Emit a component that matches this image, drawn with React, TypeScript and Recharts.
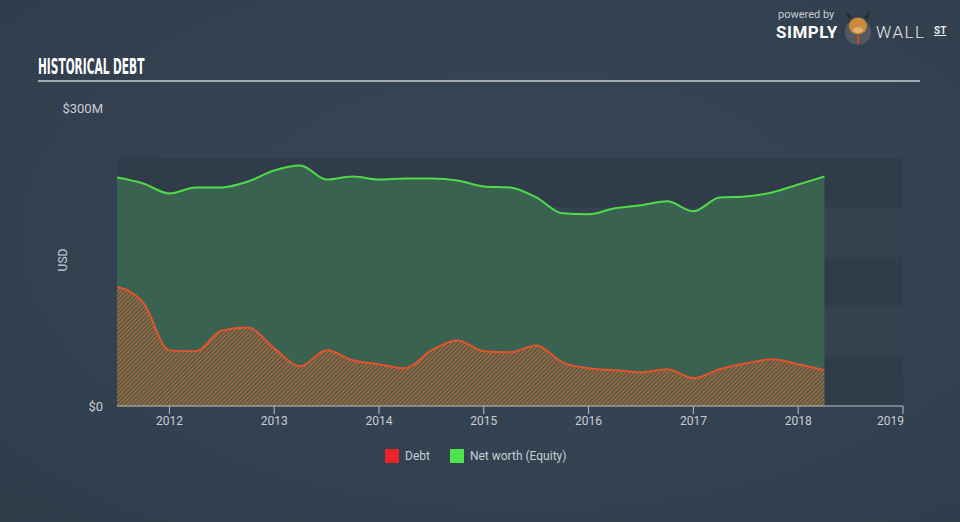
import React from "react";
import {
  Area,
  ComposedChart,
  ReferenceArea,
  XAxis,
  YAxis
} from "recharts";

const periods = [
  2011.5, 2011.75, 2012, 2012.25, 2012.5, 2012.75, 2013, 2013.25, 2013.5, 2013.75,
  2014, 2014.25, 2014.5, 2014.75, 2015, 2015.25, 2015.5, 2015.75, 2016, 2016.25,
  2016.5, 2016.75, 2017, 2017.25, 2017.5, 2017.75, 2018, 2018.25
];

// $M
const debt = [
  120, 104, 56, 55, 76, 79, 58, 40, 56, 46, 42, 38, 56, 66, 55, 54, 61, 44, 38, 36,
  34, 37, 28, 37, 43, 47, 42, 36
];

const equity = [
  230, 224, 214, 220, 220, 226, 237, 242, 228, 231, 228, 229, 229, 227, 221, 220,
  210, 194, 193, 199, 202, 206, 196, 210, 211, 215, 223, 231
];

const yearTicks = [2012, 2013, 2014, 2015, 2016, 2017, 2018, 2019];
const valueTicks = [0, 300];
const bands = [0, 50, 100, 150, 200];

const rows = periods.map((t, i) => ({ t, debt: debt[i], equity: equity[i] }));

const axisText = "#c9ced4";
const tickFont = "Roboto, 'Open Sans', sans-serif";

function YearTick(props: any) {
  const { x, y, payload } = props;
  const last = payload.value === 2019;
  return (
    <text
      x={last ? x + 1 : x}
      y={y + 9}
      textAnchor={last ? "end" : "middle"}
      fill={axisText}
      fontSize={12}
      fontFamily={tickFont}
    >
      {payload.value}
    </text>
  );
}

export default function App() {
  return (
    <div
      style={{
        position: "absolute",
        left: 0,
        top: 0,
        width: 960,
        height: 522,
        overflow: "hidden",
        background: "radial-gradient(ellipse at 55% 45%, #374656 0%, #334150 60%, #2f3c4a 100%)",
        fontFamily: tickFont
      }}
    >
      <div
        style={{
          position: "absolute",
          left: 38,
          top: 55,
          color: "#ffffff",
          fontFamily: "'Liberation Sans Narrow', 'DejaVu Sans Condensed', sans-serif",
          fontWeight: 700,
          fontSize: 21,
          lineHeight: "24px",
          transform: "scaleX(0.56)",
          transformOrigin: "left center",
          whiteSpace: "nowrap"
        }}
      >
        HISTORICAL DEBT
      </div>
      <div
        style={{
          position: "absolute",
          left: 38,
          top: 80,
          width: 882,
          height: 2,
          background: "#a3aab2"
        }}
      />

      {/* logo */}
      <div style={{ position: "absolute", left: 778, top: 8, color: "#c8ccd1", fontSize: 11, lineHeight: "13px" }}>
        powered by
      </div>
      <div
        style={{
          position: "absolute",
          left: 776,
          top: 23,
          color: "#ffffff",
          fontSize: 17,
          lineHeight: "18px",
          fontWeight: 700,
          letterSpacing: 0.5
        }}
      >
        SIMPLY
      </div>
      <svg style={{ position: "absolute", left: 841, top: 9 }} width={34} height={38}>
        <circle cx={17} cy={23} r={13} fill="#55595f" />
        <ellipse cx={17} cy={17} rx={9} ry={8.5} fill="#c98a3a" />
        <ellipse cx={17} cy={21} rx={5} ry={3} fill="#e0b070" />
        <path d="M7 10 L5 2 L11 8 Z M27 10 L29 2 L23 8 Z" fill="#2a2a2a" />
        <rect x={16} y={27} width={2} height={7} fill="#d8402a" />
      </svg>
      <div
        style={{
          position: "absolute",
          left: 876,
          top: 23,
          color: "#e6e8ea",
          fontSize: 17,
          lineHeight: "18px",
          fontWeight: 300,
          letterSpacing: 1.5
        }}
      >
        WALL
      </div>
      <div
        style={{
          position: "absolute",
          left: 934,
          top: 25,
          color: "#e6e8ea",
          fontSize: 10,
          lineHeight: "11px",
          fontWeight: 700,
          textDecoration: "underline"
        }}
      >
        ST
      </div>

      <div
        style={{
          position: "absolute",
          left: 52,
          top: 253,
          color: axisText,
          fontSize: 12,
          transform: "rotate(-90deg)",
          transformOrigin: "center"
        }}
      >
        USD
      </div>

      <ComposedChart
        width={960}
        height={522}
        data={rows}
        margin={{ top: 108, right: 57, bottom: 86, left: 57 }}
        style={{ position: "absolute", left: 0, top: 0 }}
      >
        <defs>
          <pattern
            id="debtHatch"
            patternUnits="userSpaceOnUse"
            width={3}
            height={3}
            patternTransform="rotate(45)"
          >
            <rect x={0} y={0} width={3} height={3} fill="#3f5e4a" />
            <rect x={0} y={0} width={1.4} height={3} fill="#b9653c" />
          </pattern>
        </defs>
        <XAxis
          dataKey="t"
          type="number"
          domain={[2011.5, 2019]}
          ticks={yearTicks}
          allowDataOverflow
          stroke="#b9c1c9"
          tickSize={8}
          tick={<YearTick />}
          height={30}
        />
        <YAxis
          type="number"
          domain={[0, 300]}
          ticks={valueTicks}
          axisLine={false}
          tickLine={false}
          tickMargin={8}
          width={60}
          tick={{ fill: axisText, fontSize: 13, fontFamily: tickFont }}
          tickFormatter={(v: number) => (v === 0 ? "$0" : `$${v}M`)}
        />
        {bands.map((b, i) => (
          <ReferenceArea
            key={b}
            x1={2011.5}
            x2={2019}
            y1={b}
            y2={b + 50}
            fill={i % 2 === 0 ? "#303c4a" : "#354351"}
            fillOpacity={1}
            stroke="none"
            ifOverflow="visible"
          />
        ))}
        <Area
          type="monotone"
          dataKey="equity"
          stroke="#4fdc48"
          strokeWidth={2}
          fill="#3a6550"
          fillOpacity={0.95}
          isAnimationActive={false}
          dot={false}
          activeDot={false}
        />
        <Area
          type="monotone"
          dataKey="debt"
          stroke="#e4532c"
          strokeWidth={2}
          fill="url(#debtHatch)"
          fillOpacity={1}
          isAnimationActive={false}
          dot={false}
          activeDot={false}
        />
      </ComposedChart>

      {/* legend */}
      <div
        style={{
          position: "absolute",
          left: 385,
          top: 449,
          display: "flex",
          alignItems: "center",
          color: axisText,
          fontSize: 12
        }}
      >
        <span style={{ width: 14, height: 14, background: "#e8262a", display: "inline-block" }} />
        <span style={{ marginLeft: 6 }}>Debt</span>
        <span
          style={{
            width: 14,
            height: 14,
            background: "#4fe24c",
            display: "inline-block",
            marginLeft: 20
          }}
        />
        <span style={{ marginLeft: 6 }}>Net worth (Equity)</span>
      </div>
    </div>
  );
}
